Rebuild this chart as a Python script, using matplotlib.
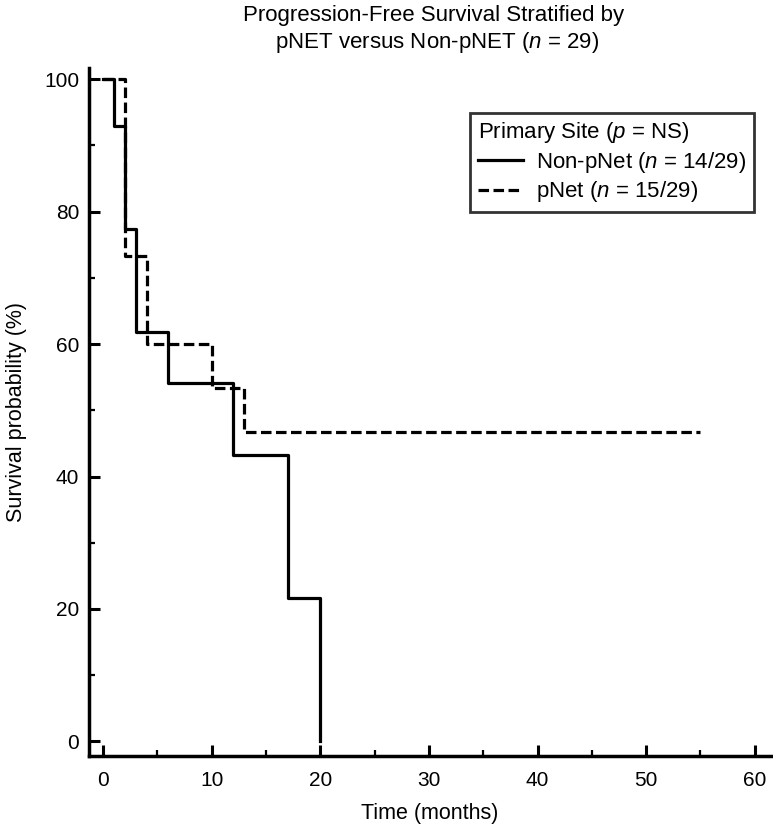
import matplotlib
matplotlib.use("Agg")
import matplotlib.pyplot as plt
from matplotlib.ticker import MultipleLocator

plt.rcParams['font.family'] = ['Liberation Sans', 'DejaVu Sans']
plt.rcParams['mathtext.fontset'] = 'custom'
plt.rcParams['mathtext.rm'] = 'Liberation Sans'
plt.rcParams['mathtext.it'] = 'Liberation Sans:italic'

# Kaplan-Meier step data (time in months, survival %)
nonpnet_time = [0, 1, 2, 3, 6, 12, 17, 20]
nonpnet_surv = [100, 92.9, 77.4, 61.9, 54.2, 43.3, 21.7, 0]
pnet_time = [0, 2, 4, 10, 13, 55]
pnet_surv = [100, 73.3, 60.0, 53.3, 46.7, 46.7]

title_text = "Progression-Free Survival Stratified by\n pNET versus Non-pNET ($\\mathit{n}$ = 29)"
legend_title = "Primary Site ($\\mathit{p}$ = NS)"
label_nonpnet = "Non-pNet ($\\mathit{n}$ = 14/29)"
label_pnet = "pNet ($\\mathit{n}$ = 15/29)"

W, H = 773, 831
fig = plt.figure(figsize=(W / 100, H / 100), dpi=100)
ax = fig.add_axes([89 / W, 1 - 756 / H, (771 - 89) / W, (756 - 68) / H])

ax.step(nonpnet_time, nonpnet_surv, where='post', color='black', lw=2.3,
        label=label_nonpnet)
ax.step(pnet_time, pnet_surv, where='post', color='black', lw=2.3,
        linestyle=(0, (3.3, 1.4)), label=label_pnet)

ax.set_xlim(-1.3, 61.5)
ax.set_ylim(-2.2, 101.7)
ax.xaxis.set_major_locator(MultipleLocator(10))
ax.xaxis.set_minor_locator(MultipleLocator(5))
ax.yaxis.set_major_locator(MultipleLocator(20))
ax.yaxis.set_minor_locator(MultipleLocator(10))
ax.tick_params(which='major', direction='in', length=8, width=2.2, labelsize=15)
ax.tick_params(axis='x', which='major', pad=11)
ax.tick_params(axis='y', which='major', pad=7)
ax.tick_params(which='minor', direction='in', length=4.5, width=1.6)

for s in ['top', 'right']:
    ax.spines[s].set_visible(False)
for s in ['left', 'bottom']:
    ax.spines[s].set_linewidth(2.5)

ax.set_xlabel("Time (months)", fontsize=15.5, labelpad=9)
ax.set_ylabel("Survival probability (%)", fontsize=15.5, labelpad=12)

fig.text(434 / W, 1 - 30 / H, title_text, ha='center', va='center', fontsize=16,
         linespacing=1.25)

leg = ax.legend(title=legend_title, loc='upper right', bbox_to_anchor=(0.975, 0.935),
                fontsize=16, title_fontsize=16, frameon=True, fancybox=False,
                handlelength=2.0, handletextpad=0.6, borderpad=0.35,
                labelspacing=0.2, alignment='left', borderaxespad=0)
leg.get_frame().set_edgecolor('black')
leg.get_frame().set_linewidth(2)

fig.savefig("out.png", dpi=100)
